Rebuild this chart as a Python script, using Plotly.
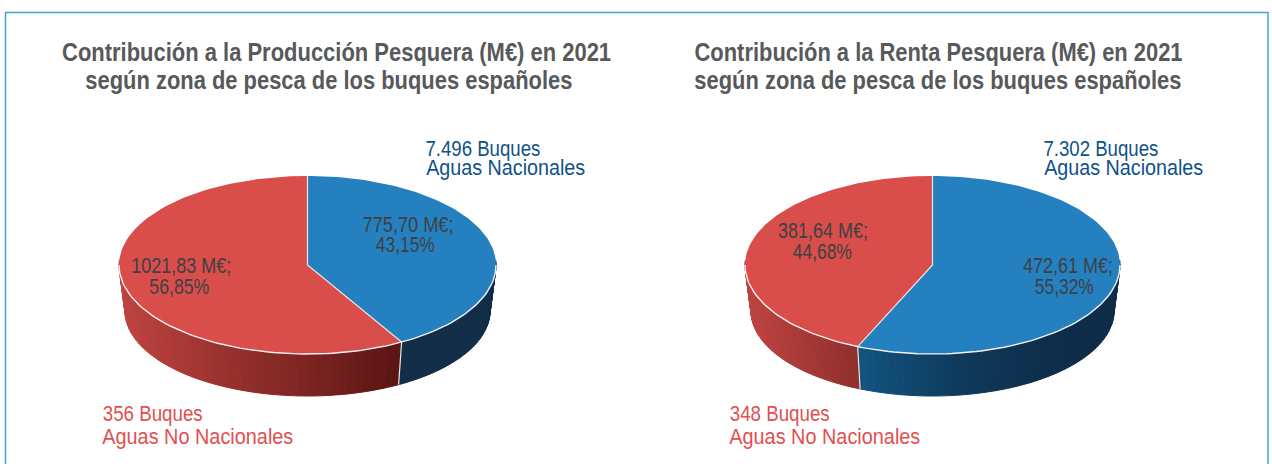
import json
import math
import plotly.graph_objects as go

# ---- data ----
pie_titles = [
    ["Contribución a la Producción Pesquera (M€) en 2021", "según zona de pesca de los buques españoles"],
    ["Contribución a la Renta Pesquera (M€) en 2021", "según zona de pesca de los buques españoles"],
]
zones = ["Aguas Nacionales", "Aguas No Nacionales"]
produccion_values = [775.70, 1021.83]
renta_values = [472.61, 381.64]
produccion_pct = ["43,15%", "56,85%"]
renta_pct = ["55,32%", "44,68%"]
produccion_vals_txt = ["775,70 M€;", "1021,83 M€;"]
renta_vals_txt = ["472,61 M€;", "381,64 M€;"]
produccion_buques = ["7.496 Buques", "356 Buques"]
renta_buques = ["7.302 Buques", "348 Buques"]

FONT = "Liberation Sans, Arial, sans-serif"
BLUE, RED = "#2580BF", "#D94D4B"
GREY, INK = "#58595B", "#3D4145"
BLUE_TXT, RED_TXT = "#0F5288", "#E0504F"

fig = go.Figure()
text_widths = {}


def warp(t):
    # perspective foreshortening of the drawn pie angle
    return t + math.radians(7) * math.sin(2 * t)


def top_pt(c, rx, t):
    return c + rx * math.sin(t), 265 - 89 * math.cos(t)


def bot_pt(c, rx, t):
    return c + (rx - 6) * math.sin(t), 311 - 85 * math.cos(t)


def hexmix(a, b, f):
    pa = [int(a[i:i + 2], 16) for i in (1, 3, 5)]
    pb = [int(b[i:i + 2], 16) for i in (1, 3, 5)]
    return "#" + "".join(f"{round(x + (y - x) * f):02x}" for x, y in zip(pa, pb))


def frange(a, b, n):
    return [a + (b - a) * i / n for i in range(n + 1)]


def poly(xs, ys, fill, line=None, w=0):
    fig.add_trace(go.Scatter(
        x=xs, y=ys, mode="lines", fill="toself", fillcolor=fill,
        line=dict(color=line or fill, width=w), hoverinfo="skip", showlegend=False))


def stroke(xs, ys, color, w):
    fig.add_trace(go.Scatter(
        x=xs, y=ys, mode="lines", line=dict(color=color, width=w),
        hoverinfo="skip", showlegend=False))


def draw_pie(values, c, rx, blue_wall, red_wall):
    end = warp(2 * math.pi * values[0] / sum(values))
    # front wall: blue part, then red part
    for a, b, cols, gamma in [(math.pi / 2 - 0.05, end, blue_wall, 2.0),
                              (end, 3 * math.pi / 2 + 0.05, red_wall, 1.0)]:
        a2, b2 = max(a, math.pi / 2 - 0.05), min(b, 3 * math.pi / 2 + 0.05)
        n = 48
        steps = frange(a2, b2, n)
        x_first, x_last = top_pt(c, rx, steps[0])[0], top_pt(c, rx, steps[-1])[0]
        for u, v in zip(steps, steps[1:]):
            mx = top_pt(c, rx, (u + v) / 2)[0]
            f = max(0.0, min(1.0, (mx - x_first) / (x_last - x_first))) ** gamma
            col = hexmix(cols[0], cols[1], f)
            tp = [top_pt(c, rx, u), top_pt(c, rx, v)]
            bp = [bot_pt(c, rx, v), bot_pt(c, rx, u)]
            pts = tp + bp + [tp[0]]
            poly([p[0] for p in pts], [p[1] for p in pts], col, col, 1)
    # top faces
    for a, b, col in [(0, end, BLUE), (end, 2 * math.pi, RED)]:
        pts = [(c, 265)] + [top_pt(c, rx, t) for t in frange(a, b, 120)] + [(c, 265)]
        poly([p[0] for p in pts], [p[1] for p in pts], col)
    # white edges
    rim = [top_pt(c, rx, t) for t in frange(math.pi / 2, 3 * math.pi / 2, 120)]
    stroke([p[0] for p in rim], [p[1] for p in rim], "#F2F2F2", 1.4)
    e = top_pt(c, rx, end)
    b_e = bot_pt(c, rx, end)
    s = top_pt(c, rx, 0)
    stroke([s[0], c, e[0], b_e[0]], [s[1], 265, e[1], b_e[1]], "#E8E8E8", 1.2)


draw_pie(produccion_values, 307.5, 188.5, ("#112D48", "#112D48"), ("#5A1412", "#BE4340"))
draw_pie(renta_values, 932.5, 187.5, ("#0E2B47", "#115582"), ("#8F2F2D", "#BE4340"))


def label(x0, x1, y, text, color, size, bold=False):
    """Text between x0 and x1; the narrow look is obtained by condensing it to that width."""
    text_widths[text] = x1 - x0
    fig.add_annotation(
        x=(x0 + x1) / 2 - 0.5, y=y - 1, xref="x", yref="y", text=text, showarrow=False,
        xanchor="center", yanchor="middle",
        font=dict(family=FONT, size=size, color=color, weight=700 if bold else 400))


# titles
label(62, 611, 53, pie_titles[0][0], GREY, 25, bold=True)
label(86, 573, 81, pie_titles[0][1], GREY, 25, bold=True)
label(695, 1183, 53, pie_titles[1][0], GREY, 25, bold=True)
label(695, 1182, 81, pie_titles[1][1], GREY, 25, bold=True)

# outer labels
label(426, 541, 149, produccion_buques[0], BLUE_TXT, 22)
label(426, 585, 168, zones[0], BLUE_TXT, 22)
label(1044, 1159, 149, renta_buques[0], BLUE_TXT, 22)
label(1044, 1203, 168, zones[0], BLUE_TXT, 22)
label(103, 203, 414, produccion_buques[1], RED_TXT, 22)
label(103, 294, 437, zones[1], RED_TXT, 22)
label(730, 830, 414, renta_buques[1], RED_TXT, 22)
label(730, 921, 437, zones[1], RED_TXT, 22)

# slice labels
label(363, 454, 225, produccion_vals_txt[0], INK, 22)
label(376, 435, 245, produccion_pct[0], INK, 22)
label(131, 231, 266, produccion_vals_txt[1], INK, 22)
label(150, 210, 287, produccion_pct[1], INK, 22)
label(778, 868, 231, renta_vals_txt[1], INK, 22)
label(793, 852, 252, renta_pct[1], INK, 22)
label(1023, 1113, 266, renta_vals_txt[0], INK, 22)
label(1035, 1094, 287, renta_pct[0], INK, 22)

# frame
fig.add_shape(type="rect", xref="x", yref="y", x0=5.5, y0=12.5, x1=1268, y1=480,
              line=dict(color="#3FA6C8", width=1.5), fillcolor="rgba(0,0,0,0)")

fig.update_layout(
    width=1272, height=464, margin=dict(l=0, r=0, t=0, b=0),
    paper_bgcolor="white", plot_bgcolor="white", showlegend=False,
    xaxis=dict(range=[0, 1272], visible=False, fixedrange=True),
    yaxis=dict(range=[464, 0], visible=False, fixedrange=True),
)

post = """
document.body.style.margin = '0';
document.body.style.overflow = 'hidden';
var WIDTHS = %s;
function condense() {
  document.querySelectorAll('text.annotation-text').forEach(function (t) {
    var w = WIDTHS[t.textContent];
    if (w) { t.setAttribute('textLength', w); t.setAttribute('lengthAdjust', 'spacingAndGlyphs'); }
  });
}
condense();
setTimeout(condense, 50);
setTimeout(condense, 300);
""" % json.dumps(text_widths, ensure_ascii=False)

fig.write_html("out.html", config={"displayModeBar": False}, post_script=post)
